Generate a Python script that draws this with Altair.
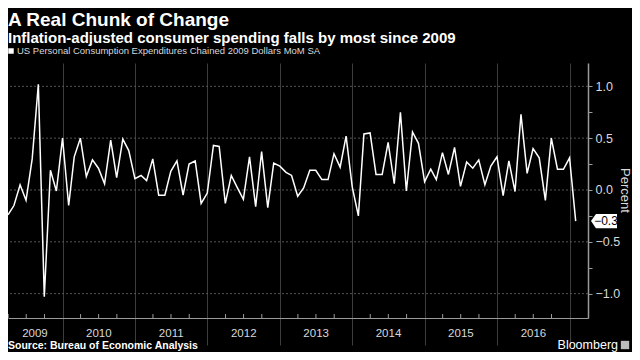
import calendar
import altair as alt
import pandas as pd

# ---------------- data ----------------
title_text = "A Real Chunk of Change"
subtitle_text = "Inflation-adjusted consumer spending falls by most since 2009"
legend_text = "US Personal Consumption Expenditures Chained 2009 Dollars MoM SA"
source_text = "Source: Bureau of Economic Analysis"
brand_text = "Bloomberg"
y_title = "Percent"

start_year, start_month = 2009, 3
mom_change = [
    -0.24, -0.15, 0.05, -0.10, 0.30, 1.02, -1.03, 0.19, -0.01, 0.50,   # 2009 Mar-Dec
    -0.15, 0.32, 0.50, 0.13, 0.29, 0.21, 0.06, 0.48, 0.12, 0.49, 0.38, 0.11,  # 2010
    0.14, 0.09, 0.30, -0.05, -0.05, 0.18, 0.28, -0.05, 0.25, 0.28, -0.13, -0.03,  # 2011
    0.43, 0.42, -0.13, 0.14, 0.02, -0.09, 0.32, -0.16, 0.37, -0.17, 0.26, 0.23,  # 2012
    0.17, 0.14, -0.06, 0.02, 0.19, 0.19, 0.10, 0.10, 0.35, 0.22, 0.52, 0.03,  # 2013
    -0.25, 0.54, 0.55, 0.15, 0.15, 0.46, 0.06, 0.75, -0.01, 0.56, 0.45, 0.08,  # 2014
    0.20, 0.10, 0.36, 0.15, 0.41, 0.035, 0.27, 0.21, 0.29, 0.05, 0.23, 0.32,  # 2015
    -0.055, 0.28, -0.015, 0.73, 0.16, 0.40, 0.31, -0.10, 0.50, 0.20, 0.20, 0.31,  # 2016
    -0.30,  # 2017 Jan
]

year_labels = ["2009", "2010", "2011", "2012", "2013", "2014", "2015", "2016"]
year_label_dates = ["2009-08-14", "2010-07-02", "2011-07-02", "2012-07-02",
                    "2013-07-02", "2014-07-02", "2015-07-02", "2016-07-02"]
year_lines = [2010, 2011, 2012, 2013, 2014, 2015, 2016, 2017]
quarter_ticks = [f"{y}-{m:02d}-01" for y in range(2009, 2017) for m in (4, 7, 10)]
y_ticks = [-1.0, -0.75, -0.5, -0.25, 0.0, 0.25, 0.5, 0.75, 1.0]
y_grid = [-1.0, -0.5, 0.0, 0.5, 1.0]

dates = []
for i in range(len(mom_change)):
    m = start_month - 1 + i
    yr = start_year + m // 12
    mo = m % 12 + 1
    d = calendar.monthrange(yr, mo)[1]
    dates.append(f"{yr:04d}-{mo:02d}-{d:02d}")

df = pd.DataFrame({"date": dates, "value": mom_change})
last_df = df.tail(1)

# ---------------- layout ----------------
W, H = 580, 255
BG = "#000000"
GRID = "#3d3d3d"
AXIS = "#9a9a9a"
LABEL = "#d9d9d9"
FONT = "Liberation Sans"

x_scale = alt.Scale(type="utc",
                    domain=[alt.DateTime(year=2009, month=3, date=31, utc=True),
                            alt.DateTime(year=2017, month=4, date=3, utc=True)])
x_axis = alt.Axis(values=[alt.DateTime(year=y, month=1, date=1, utc=True) for y in year_lines],
                  labels=False, grid=True, gridColor=GRID, gridWidth=1,
                  tickSize=27, tickColor=GRID, domainColor=AXIS, title=None)
X = alt.X("date:T", scale=x_scale, axis=x_axis)

y_scale = alt.Scale(domain=[-1.235, 1.225], nice=False, zero=False)
y_axis = alt.Axis(orient="right", values=y_ticks,
                  labelExpr="abs(datum.value) % 0.5 < 0.001 ? format(datum.value, '.1f') : ''",
                  grid=False, tickSize=4, tickColor=AXIS, domainColor=AXIS, domainWidth=1.5,
                  labelColor=LABEL, labelFontSize=12.5, labelFont=FONT, labelPadding=3, title=None)
Y = alt.Y("value:Q", scale=y_scale, axis=y_axis)

grid = alt.Chart(pd.DataFrame({"value": y_grid})).mark_rule(
    color="#555555", strokeDash=[2, 2], strokeWidth=1).encode(y=Y)

qticks = alt.Chart(pd.DataFrame({"date": quarter_ticks})).mark_rule(
    color=AXIS, strokeWidth=1).encode(x=X, y=alt.value(H), y2=alt.value(H - 4))

line = alt.Chart(df).mark_line(color="white", strokeWidth=1.5).encode(x=X, y=Y)

tag_path = "M -1 0 L -0.62 -0.55 L 1 -0.55 L 1 0.55 L -0.62 0.55 Z"
tag = alt.Chart(last_df).mark_point(shape=tag_path, filled=True, fill="white",
                                   opacity=1, size=676, strokeWidth=0).encode(
    x=alt.value(W + 16), y=Y)
tag_text = alt.Chart(last_df).mark_text(color="black", fontSize=12, font=FONT,
                                        align="center", baseline="middle", dx=2).encode(
    x=alt.value(W + 16), y=Y, text=alt.Text("value:Q", format=".1f"))

year_text = alt.Chart(pd.DataFrame({"date": year_label_dates, "label": year_labels})).mark_text(
    color=LABEL, fontSize=11.5, font=FONT, align="center", baseline="middle").encode(
    x=X, y=alt.value(H + 16), text="label:N")


def text_layer(txt, x, y, size, bold=False, color="white", align="left", baseline="alphabetic", angle=0):
    return alt.Chart(pd.DataFrame({"t": [txt]})).mark_text(
        color=color, fontSize=size, font=FONT, fontWeight="bold" if bold else "normal",
        align=align, baseline=baseline, angle=angle).encode(
        x=alt.value(x), y=alt.value(y), text="t:N")


title_l = text_layer(title_text, 0, -37.5, 19, bold=True)
subtitle_l = text_layer(subtitle_text, 0, -20.5, 15, bold=True)
legend_sq = alt.Chart(pd.DataFrame({"t": [legend_text]})).mark_square(
    color="white", size=30, opacity=1).encode(x=alt.value(3), y=alt.value(-12))
legend_l = text_layer(legend_text, 9, -12, 9.5, color=LABEL, baseline="middle")
percent_l = text_layer(y_title, W + 37, H / 2, 13, color=LABEL, align="center",
                       baseline="middle", angle=90)
source_l = text_layer(source_text, 0, H + 31, 10.5, bold=True)
brand_l = text_layer(brand_text, W + 30, H + 31, 12.5, align="right")
logo = alt.Chart(pd.DataFrame({"t": [brand_text]})).mark_square(
    color="#bdbdbd", size=70, opacity=1).encode(x=alt.value(W + 37), y=alt.value(H + 27))

chart = alt.layer(
    grid, qticks, line, tag, tag_text, year_text,
    title_l, subtitle_l, legend_sq, legend_l, percent_l, source_l, brand_l, logo,
).properties(
    width=W, height=H,
    autosize=alt.AutoSizeParams(type="none"),
    padding={"left": 0, "top": 55, "right": 44, "bottom": 34},
    background=BG,
).configure_view(stroke=None)

chart.save("out.html", embed_options={"renderer": "svg", "actions": False})
